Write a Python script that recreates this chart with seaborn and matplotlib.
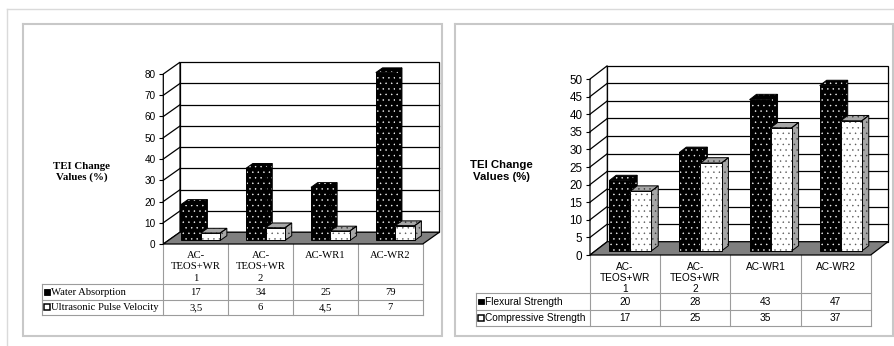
import matplotlib
matplotlib.use("Agg")
import matplotlib.pyplot as plt
from matplotlib.patches import Polygon, Rectangle
import pandas as pd
import seaborn as sns

# ---- data -------------------------------------------------------------
categories = ["AC-\nTEOS+WR\n1", "AC-\nTEOS+WR\n2", "AC-WR1", "AC-WR2"]

water_absorption = [17, 34, 25, 79]
ultrasonic_pulse_velocity = [3.5, 6, 4.5, 7]
flexural_strength = [20, 28, 43, 47]
compressive_strength = [17, 25, 35, 37]

left_series = ["Water Absorption", "Ultrasonic Pulse Velocity"]
right_series = ["Flexural Strength", "Compressive Strength"]
left_ticks = list(range(0, 81, 10))
right_ticks = list(range(0, 51, 5))
y_title = "TEI Change\nValues (%)"

plt.rcParams["hatch.linewidth"] = 0.3

W, H = 895, 346
fig = plt.figure(figsize=(W / 100, H / 100), dpi=100)
bg = fig.add_axes([0, 0, 1, 1], zorder=0)
bg.set_xlim(0, W)
bg.set_ylim(H, 0)
bg.axis("off")

SERIF = "Liberation Serif"
SANS = "Liberation Sans"
DOTS = "..."


def fmt(v):
    return f"{v:g}".replace(".", ",")


def box(x0, y0, x1, y1, color, lw):
    bg.plot([x0, x1, x1, x0, x0], [y0, y0, y1, y1, y0], color=color, lw=lw,
            solid_joinstyle="miter")


# page and panel frames
bg.plot([6.7, W], [9.3, 9.3], color="#dadada", lw=1.0)
bg.plot([6.7, 6.7], [9.3, H], color="#dadada", lw=1.0)
box(23.5, 24, 442.5, 335.5, "#c8c8c8", 1.5)
box(455, 24, 892.8, 336, "#c8c8c8", 1.5)

STYLE = [
    # front colour, front dots, side/top colour, side/top dots
    ("black", "white", "black", "white"),
    ("white", "#555555", "#a6a6a6", "#333333"),
]


def hatched(ax, verts, fc, dc, z):
    ax.add_patch(Polygon(verts, closed=True, facecolor=fc, edgecolor=dc, lw=0,
                         hatch=DOTS, zorder=z, clip_on=False))
    ax.add_patch(Polygon(verts, closed=True, fill=False, edgecolor="black",
                         lw=0.7, zorder=z + 0.5, clip_on=False))


def draw_panel(cfg):
    x0, x1, y0, ppu = cfg["x0"], cfg["x1"], cfg["y0"], cfg["ppu"]
    dxp, dyp = cfg["dx"], cfg["dy"]
    ticks = cfg["ticks"]
    ymax = ticks[-1]
    n = len(categories)
    cw = (x1 - x0) / n
    DX, DY = dxp / cw, dyp / ppu

    ax = fig.add_axes([x0 / W, (H - y0) / H, (x1 + dxp - x0) / W,
                       (ymax * ppu + dyp) / H], zorder=1)
    ax.patch.set_visible(False)

    df = pd.DataFrame({
        "category": categories * 2,
        "series": [s for s in cfg["series"] for _ in categories],
        "value": list(cfg["values"][0]) + list(cfg["values"][1]),
    })
    sns.barplot(data=df, x="category", y="value", hue="series",
                order=categories, hue_order=cfg["series"],
                palette=["black", "white"], width=0.6, saturation=1,
                errorbar=None, legend=False, ax=ax)
    fronts = list(ax.patches)

    ax.set_xlim(-0.5, n - 0.5 + DX)
    ax.set_ylim(0, ymax + DY)
    for sp in ax.spines.values():
        sp.set_visible(False)
    ax.set_xticks([])
    ax.set_xlabel("")
    ax.set_ylabel("")
    ax.set_yticks(ticks)
    ax.set_yticklabels([str(t) for t in ticks], family=SANS,
                       fontsize=cfg["tick_fs"])
    ax.tick_params(axis="y", length=3, width=0.8, pad=2.5, colors="black")

    # walls, gridlines and floor
    xl, xr = -0.5, n - 0.5
    ax.add_patch(Rectangle((xl + DX, DY), n, ymax, facecolor="white",
                           edgecolor="black", lw=0.9, zorder=0.5, clip_on=False))
    ax.add_patch(Polygon([(xl, 0), (xl + DX, DY), (xl + DX, ymax + DY), (xl, ymax)],
                         closed=True, facecolor="white", edgecolor="black",
                         lw=0.9, zorder=0.6, clip_on=False))
    for t in ticks[1:-1]:
        ax.plot([xl + DX, xr + DX], [t + DY, t + DY], color="black", lw=0.9,
                zorder=0.7, clip_on=False)
        ax.plot([xl, xl + DX], [t, t + DY], color="black", lw=0.9,
                zorder=0.7, clip_on=False)
    ax.add_patch(Polygon([(xl, 0), (xr, 0), (xr + DX, DY), (xl + DX, DY)],
                         closed=True, facecolor="#7f7f7f", edgecolor="black",
                         lw=0.9, zorder=1, clip_on=False))

    # 3-D columns: front face from seaborn, side and top added behind it
    fd, bd = 0.3, 0.4
    bx, by = bd * DX, bd * DY
    for p in fronts:
        w = p.get_width()
        xc = p.get_x() + w / 2
        i = int(round(xc))
        s = 0 if xc < i else 1
        v = p.get_height()
        fc, dc, sc, sdc = STYLE[s]
        z = 3 + (i * 2 + s) * 3
        left = p.get_x() + fd * DX
        right = left + w
        yb = fd * DY
        yt = yb + v
        hatched(ax, [(right, yb), (right + bx, yb + by), (right + bx, yt + by),
                     (right, yt)], sc, sdc, z)
        hatched(ax, [(left, yt), (right, yt), (right + bx, yt + by),
                     (left + bx, yt + by)], sc, sdc, z)
        p.set_x(left)
        p.set_y(yb)
        p.set_facecolor(fc)
        p.set_edgecolor(dc)
        p.set_linewidth(0)
        p.set_hatch(DOTS)
        p.set_zorder(z + 1)
        p.set_clip_on(False)
        ax.add_patch(Rectangle((left, yb), w, v, fill=False, edgecolor="black",
                               lw=0.7, zorder=z + 1.5, clip_on=False))

    # axis title
    bg.text(cfg["title_x"], cfg["title_y"], y_title, ha="center", va="center",
            family=cfg["font"], fontweight="bold", fontsize=cfg["title_fs"],
            linespacing=cfg["title_ls"])

    # data table
    tc = "#9c9c9c"
    rows = cfg["rows"]
    cols = [x0 + k * cw for k in range(n + 1)]
    for cx in cols:
        bg.plot([cx, cx], [y0, rows[-1]], color=tc, lw=0.8)
    for ry in rows:
        bg.plot([cfg["legend_x"], x1], [ry, ry], color=tc, lw=0.8)
    bg.plot([cfg["legend_x"], cfg["legend_x"]], [rows[0], rows[-1]], color=tc, lw=0.8)

    for k, cat in enumerate(categories):
        bg.text((cols[k] + cols[k + 1]) / 2, cfg["head_top"], cat, ha="center",
                va="top", family=cfg["font"], fontsize=cfg["table_fs"],
                linespacing=cfg["head_ls"])
    ks = cfg["key_size"]
    for r, (name, vals) in enumerate(zip(cfg["series"], cfg["values"])):
        cy = (rows[r] + rows[r + 1]) / 2
        kx = cfg["legend_x"] + 2.2
        if r == 0:
            bg.add_patch(Rectangle((kx, cy - ks / 2), ks, ks, facecolor="black",
                                   edgecolor="black", lw=0.6))
        else:
            bg.add_patch(Rectangle((kx, cy - ks / 2), ks, ks, facecolor="white",
                                   edgecolor="black", lw=1.1))
        bg.text(kx + ks + 1.5, cy + 0.5, name, ha="left", va="center",
                family=cfg["font"], fontsize=cfg["table_fs"])
        for k, v in enumerate(vals):
            bg.text((cols[k] + cols[k + 1]) / 2, cy + 0.5, fmt(v), ha="center",
                    va="center", family=cfg["font"], fontsize=cfg["table_fs"])


draw_panel(dict(
    x0=163.3, x1=422.7, y0=244, ppu=170 / 80, dx=16.7, dy=11.8,
    ticks=left_ticks, series=left_series,
    values=[water_absorption, ultrasonic_pulse_velocity],
    tick_fs=7.2, font=SERIF, title_fs=7.8, title_ls=1.25,
    title_x=82, title_y=172, table_fs=7.7, head_top=250.5, head_ls=1.4,
    rows=[284, 299.5, 315], legend_x=41.7, key_size=6,
))

draw_panel(dict(
    x0=590, x1=870.7, y0=255, ppu=176 / 50, dx=17.3, dy=13.3,
    ticks=right_ticks, series=right_series,
    values=[flexural_strength, compressive_strength],
    tick_fs=8.4, font=SANS, title_fs=8.2, title_ls=1.3,
    title_x=501.7, title_y=171, table_fs=7.3, head_top=261.5, head_ls=1.18,
    rows=[293.3, 309.7, 326.1], legend_x=476, key_size=5.6,
))

fig.savefig("out.png", dpi=100, facecolor="white")
